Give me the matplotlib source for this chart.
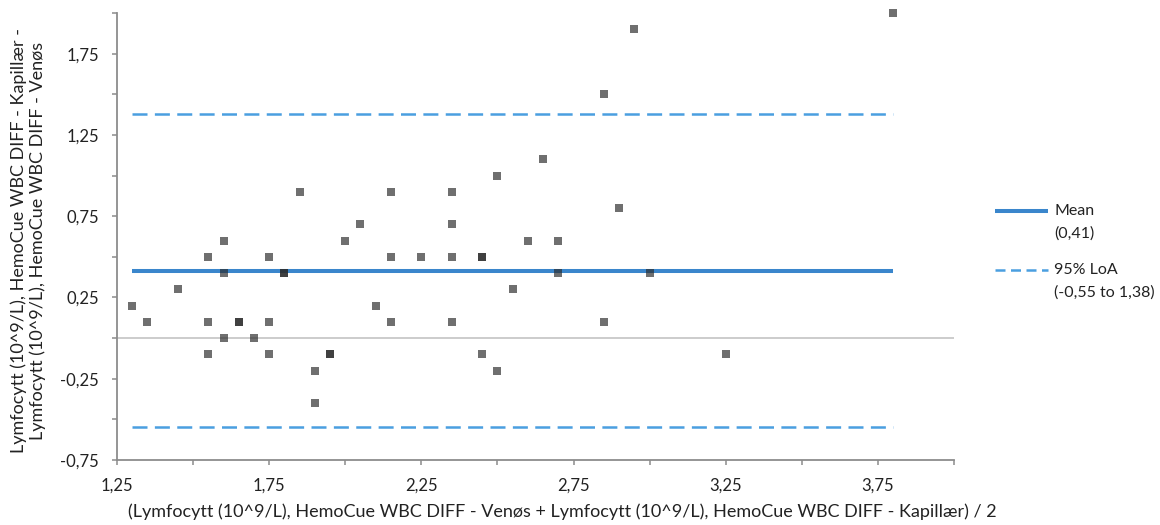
#------------------------------------------------------------------------------------------------------------------
#   Bland-Altman plot: lymfocytter, HemoCue WBC DIFF kapillær vs venøs
#------------------------------------------------------------------------------------------------------------------
import matplotlib
matplotlib.use('Agg')
import matplotlib.pyplot as plt
from matplotlib.lines import Line2D
from matplotlib.ticker import FixedLocator, FuncFormatter

plt.rcParams['font.family'] = ['Lato', 'DejaVu Sans']

# Data: average of the two methods (x) and difference kapillær - venøs (y)
avg_vals = [1.30, 1.35, 1.45, 1.55, 1.55, 1.55, 1.60, 1.60, 1.60, 1.65,
            1.65, 1.70, 1.75, 1.75, 1.75, 1.80, 1.80, 1.85, 1.90, 1.90,
            1.95, 1.95, 2.00, 2.05, 2.10, 2.15, 2.15, 2.15, 2.25, 2.35,
            2.35, 2.35, 2.35, 2.45, 2.45, 2.45, 2.50, 2.50, 2.55, 2.60,
            2.65, 2.70, 2.70, 2.85, 2.85, 2.90, 2.95, 3.00, 3.25, 3.80]
diff_vals = [0.2, 0.1, 0.3, 0.5, 0.1, -0.1, 0.6, 0.4, 0.0, 0.1,
             0.1, 0.0, 0.5, 0.1, -0.1, 0.4, 0.4, 0.9, -0.2, -0.4,
             -0.1, -0.1, 0.6, 0.7, 0.2, 0.9, 0.5, 0.1, 0.5, 0.9,
             0.7, 0.5, 0.1, 0.5, 0.5, -0.1, 1.0, -0.2, 0.3, 0.6,
             1.1, 0.6, 0.4, 1.5, 0.1, 0.8, 1.9, 0.4, -0.1, 2.0]

mean_diff = 0.41
loa_low = -0.55
loa_high = 1.38

x_major = [1.25, 1.75, 2.25, 2.75, 3.25, 3.75]
x_minor = [1.5, 2.0, 2.5, 3.0, 3.5, 4.0]
y_major = [-0.75, -0.25, 0.25, 0.75, 1.25, 1.75]
y_minor = [-0.5, 0.0, 0.5, 1.0, 1.5, 2.0]

mean_label = ['Mean', '(0,41)']
loa_label = ['95% LoA', '(-0,55 to 1,38)']

xlabel = '(Lymfocytt (10^9/L), HemoCue WBC DIFF - Venøs + Lymfocytt (10^9/L), HemoCue WBC DIFF - Kapillær) / 2'
ylabel = 'Lymfocytt (10^9/L), HemoCue WBC DIFF - Kapillær -\nLymfocytt (10^9/L), HemoCue WBC DIFF - Venøs'

# Colours
blue_mean = '#3a86cc'
blue_loa = '#4a9fe0'
axis_grey = '#8c8c8c'
text_col = '#222222'

fig = plt.figure(figsize=(11.6, 5.25), dpi=100)
ax = fig.add_axes([117/1160, 1 - 460/525, (954 - 117)/1160, (460 - 13)/525])

# Zero line
ax.axhline(0, color='#c4c4c4', lw=1.2, zorder=1)

# Mean and limits of agreement over the data range
xmin, xmax = min(avg_vals), max(avg_vals)
ax.plot([xmin, xmax], [mean_diff, mean_diff], color=blue_mean, lw=2.9,
        solid_capstyle='butt', zorder=2)
for loa in (loa_low, loa_high):
    ax.plot([xmin, xmax], [loa, loa], color=blue_loa, lw=1.8,
            linestyle=(0, (6.0, 2.95)), zorder=2)

# Points
ax.scatter(avg_vals, diff_vals, marker='s', s=34, color='#2b2b2b',
           alpha=0.68, linewidths=0, zorder=3, clip_on=False)

ax.set_xlim(1.25, 4.0)
ax.set_ylim(-0.75, 2.0)

ax.xaxis.set_major_locator(FixedLocator(x_major))
ax.xaxis.set_minor_locator(FixedLocator(x_minor))
ax.yaxis.set_major_locator(FixedLocator(y_major))
ax.yaxis.set_minor_locator(FixedLocator(y_minor))
fmt = FuncFormatter(lambda v, _: f'{v:.2f}'.replace('.', ','))
ax.xaxis.set_major_formatter(fmt)
ax.yaxis.set_major_formatter(fmt)

for side in ('top', 'right'):
    ax.spines[side].set_visible(False)
for side in ('left', 'bottom'):
    ax.spines[side].set_color(axis_grey)
    ax.spines[side].set_linewidth(1.3)

ax.tick_params(which='both', direction='out', length=3.8, width=1.1,
               color=axis_grey, labelsize=12, labelcolor=text_col)
ax.tick_params(axis='y', which='major', pad=9)
ax.tick_params(axis='x', which='major', pad=9)

ax.set_xlabel(xlabel, fontsize=13, color=text_col)
ax.xaxis.set_label_coords((562 - 117)/(954 - 117), -(512 - 460)/(460 - 13), transform=ax.transAxes)
ax.xaxis.label.set_va('center')
ax.set_ylabel(ylabel, fontsize=13, color=text_col, linespacing=1.2)
ax.yaxis.set_label_coords(-(117 - 28)/(954 - 117), 0.49)
ax.yaxis.label.set_va('center')

# Legend drawn by hand to keep the handle on the first label line
def fx(px):
    return px/1160

def fy(py):
    return 1 - py/525

fig.add_artist(Line2D([fx(995), fx(1048)], [fy(211), fy(211)], color=blue_mean,
                      lw=2.9, solid_capstyle='butt'))
fig.add_artist(Line2D([fx(995), fx(1048)], [fy(270), fy(270)], color=blue_loa,
                      lw=1.8, linestyle=(0, (4.0, 2.2))))
leg_size = 11.5
fig.text(fx(1054), fy(211), mean_label[0], fontsize=leg_size, va='center', color=text_col)
fig.text(fx(1054), fy(234), mean_label[1], fontsize=leg_size, va='center', color=text_col)
fig.text(fx(1054), fy(270), loa_label[0], fontsize=leg_size, va='center', color=text_col)
fig.text(fx(1054), fy(293), loa_label[1], fontsize=leg_size, va='center', color=text_col)

fig.savefig('out.png', dpi=100)
